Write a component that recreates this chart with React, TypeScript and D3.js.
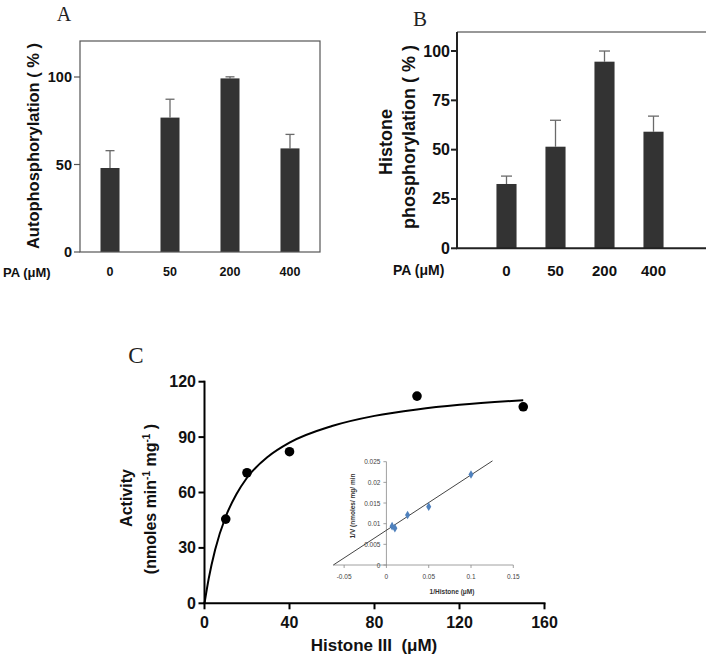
import React from "react";
import * as d3 from "d3";

// ---------- Data ----------
const paLabels = ["0", "50", "200", "400"];
const autoMean = [48, 76.8, 99.2, 59.2];
const autoErr = [9.9, 10.5, 0.9, 8.0];
const autoTicks = [0, 50, 100];

const histMean = [32.6, 51.5, 94.6, 59.1];
const histErr = [4.0, 13.4, 5.4, 7.9];
const histTicks = [0, 25, 50, 75, 100];

const substrate = [10, 20, 40, 100, 150];
const activity = [45.6, 70.7, 82.1, 112.2, 106.4];
const fitX = [0, 2, 5, 10, 15, 20, 30, 40, 60, 80, 100, 120, 150];
const fitY = [0, 13.5, 29, 47, 59, 68, 79.5, 87, 96, 101.5, 105, 107.5, 110];
const cTicksX = [0, 40, 80, 120, 160];
const cTicksY = [0, 30, 60, 90, 120];

const invS = [0.0067, 0.01, 0.025, 0.05, 0.1];
const invV = [0.0094, 0.0089, 0.0121, 0.0141, 0.0219];
const lbX = [-0.0628, 0.1254];
const lbY = [0, 0.0252];
const insetTicksX = [-0.05, 0, 0.05, 0.1, 0.15];
const insetTickLabelsX = ["-0.05", "0", "0.05", "0.1", "0.15"];
const insetTicksY = [0, 0.005, 0.01, 0.015, 0.02, 0.025];
const insetTickLabelsY = ["0", "0.005", "0.01", "0.015", "0.02", "0.025"];

const SANS = "'Liberation Sans', Arial, Helvetica, sans-serif";
const SERIF = "'Liberation Serif', 'Times New Roman', serif";
const BAR = "#333333";
const ERR = "#6a6a6a";

function PanelA() {
  const x = d3.scaleBand<string>().domain(paLabels).range([80, 320]).paddingInner(0.683).paddingOuter(0.3417);
  const y = d3.scaleLinear().domain([0, 120]).range([252, 42]);
  const bw = x.bandwidth();
  return (
    <g>
      <text x={64} y={21} fontFamily={SERIF} fontSize={20} textAnchor="middle" fill="#222">A</text>
      {paLabels.map((c, i) => {
        const cx = (x(c) as number) + bw / 2;
        const top = y(autoMean[i]);
        const et = y(autoMean[i] + autoErr[i]);
        return (
          <g key={c}>
            <line x1={cx} x2={cx} y1={top} y2={et} stroke={ERR} strokeWidth={1.3} />
            <line x1={cx - 4.5} x2={cx + 4.5} y1={et} y2={et} stroke={ERR} strokeWidth={1.3} />
            <rect x={x(c)} y={top} width={bw} height={y(0) - top} fill={BAR} />
            <text x={cx} y={272} fontFamily={SANS} fontWeight="bold" fontSize={12.5} textAnchor="middle" dominantBaseline="central" fill="#111">{c}</text>
          </g>
        );
      })}
      <rect x={80} y={41} width={240} height={211} fill="none" stroke="#555" strokeWidth={1.2} />
      {autoTicks.map((t) => (
        <g key={t}>
          <line x1={74} x2={80} y1={y(t)} y2={y(t)} stroke="#555" strokeWidth={1.2} />
          <text x={72} y={y(t)} fontFamily={SANS} fontWeight="bold" fontSize={14.5} textAnchor="end" dominantBaseline="central" fill="#111">{t}</text>
        </g>
      ))}
      <text transform="translate(33,146) rotate(-90)" fontFamily={SANS} fontWeight="bold" fontSize={16.5} textAnchor="middle" dominantBaseline="central" fill="#111">Autophosphorylation ( % )</text>
      <text x={3} y={272} fontFamily={SANS} fontWeight="bold" fontSize={13} dominantBaseline="central" fill="#111">PA (μM)</text>
    </g>
  );
}

function PanelB() {
  const x = d3.scaleBand<string>().domain(paLabels).range([482, 678]).paddingInner(0.59).paddingOuter(0.295);
  const y = d3.scaleLinear().domain([0, 110]).range([248.3, 31.3]);
  const bw = x.bandwidth();
  return (
    <g>
      <text x={420} y={26} fontFamily={SERIF} fontSize={21} textAnchor="middle" fill="#222">B</text>
      {paLabels.map((c, i) => {
        const cx = (x(c) as number) + bw / 2;
        const top = y(histMean[i]);
        const et = y(histMean[i] + histErr[i]);
        return (
          <g key={c}>
            <line x1={cx} x2={cx} y1={top} y2={et} stroke={ERR} strokeWidth={1.3} />
            <line x1={cx - 5.5} x2={cx + 5.5} y1={et} y2={et} stroke={ERR} strokeWidth={1.3} />
            <rect x={x(c)} y={top} width={bw} height={y(0) - top} fill={BAR} />
            <text x={cx} y={270} fontFamily={SANS} fontWeight="bold" fontSize={15} textAnchor="middle" dominantBaseline="central" fill="#111">{c}</text>
          </g>
        );
      })}
      <line x1={457} x2={706} y1={32} y2={32} stroke="#333" strokeWidth={1.2} />
      <line x1={457} x2={457} y1={32} y2={249} stroke="#222" strokeWidth={2} />
      <line x1={456} x2={706} y1={y(0)} y2={y(0)} stroke="#222" strokeWidth={2} />
      {histTicks.map((t) => (
        <g key={t}>
          <line x1={451} x2={457} y1={y(t)} y2={y(t)} stroke="#222" strokeWidth={2} />
          <text x={450} y={y(t)} fontFamily={SANS} fontWeight="bold" fontSize={16} textAnchor="end" dominantBaseline="central" fill="#111">{t}</text>
        </g>
      ))}
      <text transform="translate(386,142) rotate(-90)" fontFamily={SANS} fontWeight="bold" fontSize={18} textAnchor="middle" dominantBaseline="central" fill="#111">Histone</text>
      <text transform="translate(409,137) rotate(-90)" fontFamily={SANS} fontWeight="bold" fontSize={18} textAnchor="middle" dominantBaseline="central" fill="#111">phosphorylation ( % )</text>
      <text x={393} y={270} fontFamily={SANS} fontWeight="bold" fontSize={14} dominantBaseline="central" fill="#111">PA (μM)</text>
    </g>
  );
}

function Inset() {
  const x = d3.scaleLinear().domain([-0.0628, 0.15]).range([333.3, 513.3]);
  const y = d3.scaleLinear().domain([0, 0.025]).range([565, 461.7]);
  const reg = d3.line<number>().x((d) => x(lbX[d])).y((d) => y(lbY[d]));
  const diamond = d3.symbol().type(d3.symbolDiamond).size(22)();
  return (
    <g>
      <line x1={x(0)} x2={x(0)} y1={y(0.025)} y2={y(0)} stroke="#888" strokeWidth={0.8} />
      <line x1={x.range()[0]} x2={x.range()[1]} y1={y(0)} y2={y(0)} stroke="#888" strokeWidth={0.8} />
      {insetTicksY.map((t, i) => (
        <g key={"iy" + i}>
          <line x1={x(0) - 3} x2={x(0)} y1={y(t)} y2={y(t)} stroke="#888" strokeWidth={0.8} />
          <text x={x(0) - 6} y={y(t)} fontFamily={SANS} fontSize={6.5} textAnchor="end" dominantBaseline="central" fill="#444">{insetTickLabelsY[i]}</text>
        </g>
      ))}
      {insetTicksX.map((t, i) => (
        <g key={"ix" + i}>
          <line x1={x(t)} x2={x(t)} y1={y(0)} y2={y(0) + 3} stroke="#888" strokeWidth={0.8} />
          <text x={x(t)} y={576.7} fontFamily={SANS} fontSize={6.5} textAnchor="middle" dominantBaseline="central" fill="#444">{insetTickLabelsX[i]}</text>
        </g>
      ))}
      <path d={reg([0, 1]) as string} fill="none" stroke="#444" strokeWidth={1} />
      {invS.map((s, i) => (
        <path key={"p" + i} d={diamond as string} transform={`translate(${x(s)},${y(invV[i])})`} fill="#4F81BD" />
      ))}
      <text transform="translate(352,506) rotate(-90)" fontFamily={SANS} fontWeight="bold" fontSize={6.5} textAnchor="middle" dominantBaseline="central" fill="#333">1/V (nmoles/ mg/ min</text>
      <text x={452} y={591} fontFamily={SANS} fontWeight="bold" fontSize={6.5} textAnchor="middle" dominantBaseline="central" fill="#333">1/Histone (μM)</text>
    </g>
  );
}

function PanelC() {
  const x = d3.scaleLinear().domain([0, 160]).range([204.5, 544.5]);
  const y = d3.scaleLinear().domain([0, 120]).range([603.3, 381.7]);
  const fit = d3.line<number>().x((d) => x(fitX[d])).y((d) => y(fitY[d])).curve(d3.curveMonotoneX);
  return (
    <g>
      <text x={136} y={363} fontFamily={SERIF} fontSize={23} textAnchor="middle" fill="#222">C</text>
      <Inset />
      <path d={fit(fitX.map((_, i) => i)) as string} fill="none" stroke="#000" strokeWidth={2} />
      {substrate.map((s, i) => (
        <circle key={i} cx={x(s)} cy={y(activity[i])} r={4.8} fill="#000" />
      ))}
      <line x1={x(0)} x2={x(0)} y1={y(120) - 1} y2={y(0)} stroke="#000" strokeWidth={2} />
      <line x1={x(0) - 1} x2={x(160) + 1} y1={y(0)} y2={y(0)} stroke="#000" strokeWidth={2} />
      {cTicksY.map((t) => (
        <g key={"y" + t}>
          <line x1={x(0) - 6} x2={x(0)} y1={y(t)} y2={y(t)} stroke="#000" strokeWidth={2} />
          <text x={196} y={y(t)} fontFamily={SANS} fontWeight="bold" fontSize={16} textAnchor="end" dominantBaseline="central" fill="#111">{t}</text>
        </g>
      ))}
      {cTicksX.map((t) => (
        <g key={"x" + t}>
          <line x1={x(t)} x2={x(t)} y1={y(0)} y2={y(0) + 6} stroke="#000" strokeWidth={2} />
          <text x={x(t)} y={622} fontFamily={SANS} fontWeight="bold" fontSize={16} textAnchor="middle" dominantBaseline="central" fill="#111">{t}</text>
        </g>
      ))}
      <text x={374} y={645} fontFamily={SANS} fontWeight="bold" fontSize={17} textAnchor="middle" dominantBaseline="central" fill="#111" style={{ whiteSpace: "pre" }}>{"Histone III  (μM)"}</text>
      <text transform="translate(126,498) rotate(-90)" fontFamily={SANS} fontWeight="bold" fontSize={16} textAnchor="middle" dominantBaseline="central" fill="#111">Activity</text>
      <text transform="translate(150,499) rotate(-90)" fontFamily={SANS} fontWeight="bold" fontSize={16} textAnchor="middle" fill="#111" dy="5.5">
        <tspan>(nmoles min</tspan>
        <tspan dy={-6} fontSize={10}>-1</tspan>
        <tspan dy={6}> mg</tspan>
        <tspan dy={-6} fontSize={10}>-1</tspan>
        <tspan dy={6}> )</tspan>
      </text>
    </g>
  );
}

export default function App() {
  return (
    <svg width={706} height={660} style={{ position: "absolute", left: 0, top: 0, background: "#fff" }}>
      <rect x={0} y={0} width={706} height={660} fill="#fff" />
      <PanelA />
      <PanelB />
      <PanelC />
    </svg>
  );
}
